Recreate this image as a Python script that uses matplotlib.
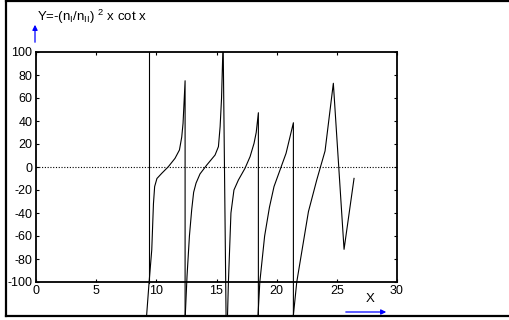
import numpy as np
import matplotlib
matplotlib.use("Agg")
import matplotlib.pyplot as plt
from matplotlib.transforms import Bbox, TransformedBbox
from matplotlib.lines import Line2D
from matplotlib.patches import FancyArrowPatch

plt.rcParams['font.family'] = ['Liberation Sans', 'DejaVu Sans']
plt.rcParams['mathtext.fontset'] = 'custom'
plt.rcParams['mathtext.rm'] = 'Liberation Sans'
plt.rcParams['mathtext.it'] = 'Liberation Sans'
plt.rcParams['axes.unicode_minus'] = False

# ---- data (x, Y) ----
drop0_x = [9.39, 9.39]
drop0_y = [140, -101]

branch1_x = [9.15, 9.40, 9.62, 9.76, 9.86, 10.05, 10.45, 11.00, 11.55, 11.92, 12.11, 12.22, 12.39, 12.39]
branch1_y = [-135, -100, -72, -32, -17, -10, -5.5, 0.3, 7.5, 14.8, 26, 38, 75, -135]

branch2_x = [12.38, 12.55, 12.75, 12.94, 13.10, 13.30, 13.63, 14.19, 14.88, 15.16, 15.30, 15.42, 15.55, 15.80]
branch2_y = [-135, -95, -60, -37, -22, -14, -6, 1.7, 10.4, 17.7, 35, 60, 110, -135]

branch3_x = [15.90, 15.99, 16.20, 16.45, 16.82, 17.37, 17.79, 18.12, 18.30, 18.48, 18.48]
branch3_y = [-135, -100, -40, -20, -11.3, -1.1, 9, 20.6, 30, 47.2, -135]

branch4_x = [18.42, 18.60, 19.00, 19.40, 19.78, 20.78, 21.39, 21.39]
branch4_y = [-135, -100, -60, -35, -17, 11.9, 38.5, -135]

branch5_x = [21.33, 21.67, 22.64, 23.33, 24.02, 24.71, 25.60, 26.43]
branch5_y = [-135, -100, -38.8, -11.3, 13.9, 72.8, -71.6, -9.9]

x_ticks = [0, 5, 10, 15, 20, 25, 30]
y_ticks = [-100, -80, -60, -40, -20, 0, 20, 40, 60, 80, 100]

W, H = 509, 320
fig = plt.figure(figsize=(W / 100, H / 100), dpi=100)
fig.patch.set_facecolor('white')

L, R, T, B = 36, 397, 52, 282
ax = fig.add_axes([L / W, 1 - B / H, (R - L) / W, (B - T) / H])
ax.set_xlim(0, 30)
ax.set_ylim(-100, 100)
ax.set_xticks(x_ticks)
ax.set_yticks(y_ticks)
ax.tick_params(direction='in', length=2.5, width=0.8, top=True, right=True,
               labelsize=9, pad=2.5, colors='black')
for s in ax.spines.values():
    s.set_linewidth(1.3)

# zero line
ax.axhline(0, color='black', linestyle=(0, (1, 1.5)), linewidth=0.8)

# clip: axes top down to the frame bottom
frame_bottom_px = 315.5
ymin_frac = (B - frame_bottom_px) / (B - T)
clip = TransformedBbox(Bbox([[0, ymin_frac], [1, 1]]), ax.transAxes)

for xs, ys in [(drop0_x, drop0_y), (branch1_x, branch1_y), (branch2_x, branch2_y),
               (branch3_x, branch3_y), (branch4_x, branch4_y), (branch5_x, branch5_y)]:
    ln, = ax.plot(xs, ys, color='black', linewidth=0.8, clip_on=True)
    ln.set_clip_box(clip)

# figure frame (top, left, bottom)
def px(xp, yp):
    return xp / W, 1 - yp / H

for (x0, y0), (x1, y1) in [((5.5, 1), (W + 5, 1)), ((5.5, 1), (5.5, 316)), ((5.5, 316), (W + 5, 316))]:
    a, b = px(x0, y0)
    c, d = px(x1, y1)
    fig.add_artist(Line2D([a, c], [b, d], transform=fig.transFigure, color='black', linewidth=1.6))

# y label with arrow
fig.text(*px(37, 21), r'Y=-(n$_{\rm I}$/n$_{\rm II}$) $^{2}$ x cot x', fontsize=9.5,
         ha='left', va='baseline')
arr1 = FancyArrowPatch(px(35, 45), px(35, 22), transform=fig.transFigure,
                       arrowstyle='-|>,head_length=3,head_width=1.5', color='#0000ff',
                       linewidth=0.9, mutation_scale=1)
fig.add_artist(arr1)

# x label with arrow
fig.text(*px(370, 302), 'X', fontsize=9.5, ha='center', va='baseline')
arr2 = FancyArrowPatch(px(343, 312), px(389, 312), transform=fig.transFigure,
                       arrowstyle='-|>,head_length=3,head_width=1.5', color='#0000ff',
                       linewidth=0.9, mutation_scale=1)
fig.add_artist(arr2)

fig.savefig('out.png', dpi=100)
